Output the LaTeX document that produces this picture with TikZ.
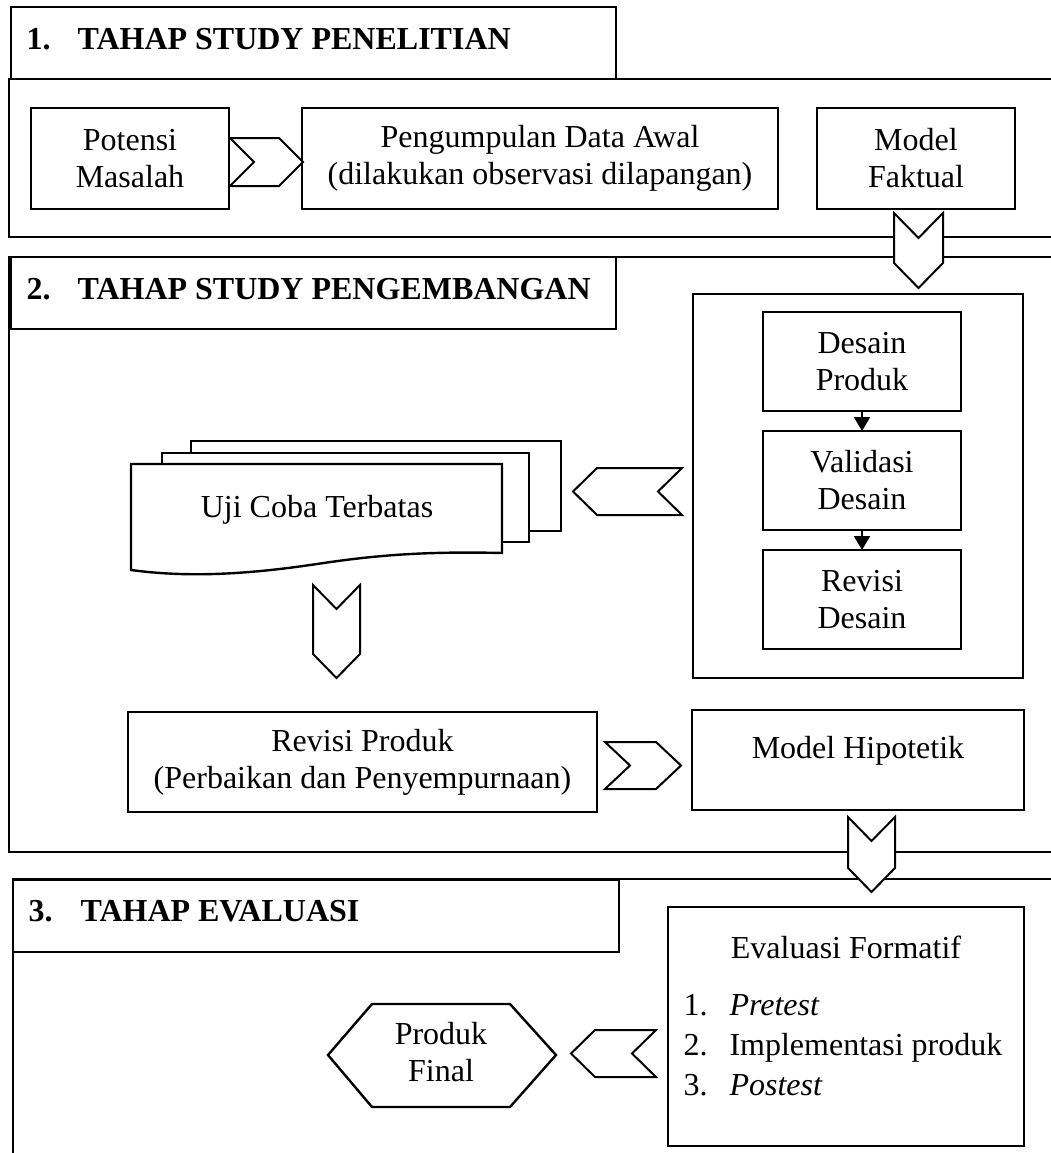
\documentclass[tikz,border=0pt]{standalone}
\usepackage{fontspec}
\setmainfont{Liberation Serif}
\usetikzlibrary{arrows.meta}
% chevron pointing right: xl, xr, ytop, ybot, depth
\newcommand\chevR[5]{\draw[chev] (#1,#3) -- ({#2-#5},#3) -- (#2,{(#3+#4)/2}) -- ({#2-#5},#4) -- (#1,#4) -- ({#1+#5},{(#3+#4)/2}) -- cycle;}
% chevron pointing left: xtip, xr, ytop, ybot, depth
\newcommand\chevL[5]{\draw[chev] (#1,{(#3+#4)/2}) -- ({#1+#5},#3) -- (#2,#3) -- ({#2-#5},{(#3+#4)/2}) -- (#2,#4) -- ({#1+#5},#4) -- cycle;}
% chevron pointing down: xl, xr, ytop, ytip, depth
\newcommand\chevD[5]{\draw[chev] (#1,#3) -- ({(#1+#2)/2},{#3+#5}) -- (#2,#3) -- (#2,{#4-#5}) -- ({(#1+#2)/2},#4) -- (#1,{#4-#5}) -- cycle;}
\begin{document}
\begin{tikzpicture}[x=1pt,y=-1pt,
  every node/.style={font=\fontsize{32pt}{37pt}\selectfont},
  box/.style={draw, line width=2.4pt, fill=white, inner sep=0pt, outer sep=0pt, align=center},
  panel/.style={line width=2pt},
  titlebox/.style={draw, line width=2.4pt, fill=white},
  chev/.style={draw, line width=2pt, fill=white, line join=miter},
  titletext/.style={anchor=base west, font=\fontsize{32pt}{37pt}\selectfont\bfseries},
  arr/.style={line width=2pt, -{Triangle[length=14pt,width=16pt]}}
]
\useasboundingbox (0,0) rectangle (1051,1153);
\fill[white] (0,0) rectangle (1051,1153);

% ---------- Section 1 ----------
\draw[panel] (1051,79) -- (9,79) -- (9,237) -- (1051,237);
\draw[titlebox] (11,7) rectangle (616,79);
\node[titletext] (t1) at (23,50) {\makebox[51pt][l]{1.}TAHAP STUDY PENELITIAN};

\node[box, minimum width=198pt, minimum height=101pt] (pot) at (130,158.5) {Potensi\\Masalah};
\node[box, minimum width=476pt, minimum height=101pt] (peng) at (540,158.5) {Pengumpulan Data Awal\\(dilakukan observasi dilapangan)};
\node[box, minimum width=198pt, minimum height=101pt] (fak) at (916,158.5) {Model\\Faktual};

% ---------- Section 2 ----------
\draw[panel] (1051,257) -- (9,257) -- (9,852) -- (1051,852);
\draw[titlebox] (11,257) rectangle (616,329);
\node[titletext] (t2) at (23,299) {\makebox[51pt][l]{2.}TAHAP STUDY PENGEMBANGAN};

\node[box, minimum width=330pt, minimum height=384pt] (cont) at (858,486) {};
\node[box, minimum width=198pt, minimum height=99pt] (dp) at (862,361.5) {Desain\\Produk};
\node[box, minimum width=198pt, minimum height=99pt] (vd) at (862,480.5) {Validasi\\Desain};
\node[box, minimum width=198pt, minimum height=99pt] (rd) at (862,599.5) {Revisi\\Desain};
\draw[arr] (dp.south) -- (vd.north);
\draw[arr] (vd.south) -- (rd.north);

% multi-document
\draw[box] (191,441) rectangle (561,531);
\draw[box] (162,453) rectangle (529,542);
\draw[box] (131,464) -- (502,464) -- (502,553)
  .. controls (420,551) and (370,556) .. (317,564)
  .. controls (250,574) and (190,578) .. (131,570) -- cycle;
\node[anchor=base] (uji) at (317,517) {Uji Coba Terbatas};

\node[box, minimum width=469pt, minimum height=100pt] (rp) at (362.5,762) {Revisi Produk\\(Perbaikan dan Penyempurnaan)};
\node[box, minimum width=332pt, minimum height=100pt] (mh) at (858,760) {};
\node[anchor=base] (mhtext) at (858,758) {Model Hipotetik};

% ---------- Section 3 ----------
\draw[panel] (1051,879) -- (13,879) -- (13,1153);
\draw[titlebox] (13,880) rectangle (619,952);
\node[titletext] (t3) at (25,921) {\makebox[52pt][l]{3.}TAHAP EVALUASI};

\node[box, minimum width=356pt, minimum height=239pt] (ev) at (846,1026.5) {};
\node[anchor=base] (evt) at (846,958) {Evaluasi Formatif};
\node[anchor=base west] (ev1) at (680,1015) {\makebox[46pt][l]{1.}\textit{Pretest}};
\node[anchor=base west] (ev2) at (680,1055) {\makebox[46pt][l]{2.}Implementasi produk};
\node[anchor=base west] (ev3) at (680,1095) {\makebox[46pt][l]{3.}\textit{Postest}};

\draw[box] (328,1055) -- (372,1004) -- (510,1004) -- (556,1055) -- (510,1107) -- (372,1107) -- cycle;
\node[align=center] (pf) at (441,1052) {Produk\\Final};

% ---------- chevrons ----------
\chevR{230}{303}{138}{186}{24}
\chevD{894}{943}{213}{288}{25}
\chevL{573}{682}{468}{515}{24}
\chevD{313}{360}{585}{678}{24}
\chevR{605}{681}{742}{789}{25}
\chevD{848}{895}{817}{892}{24}
\chevL{571}{656}{1030}{1077}{24}
\end{tikzpicture}
\end{document}
